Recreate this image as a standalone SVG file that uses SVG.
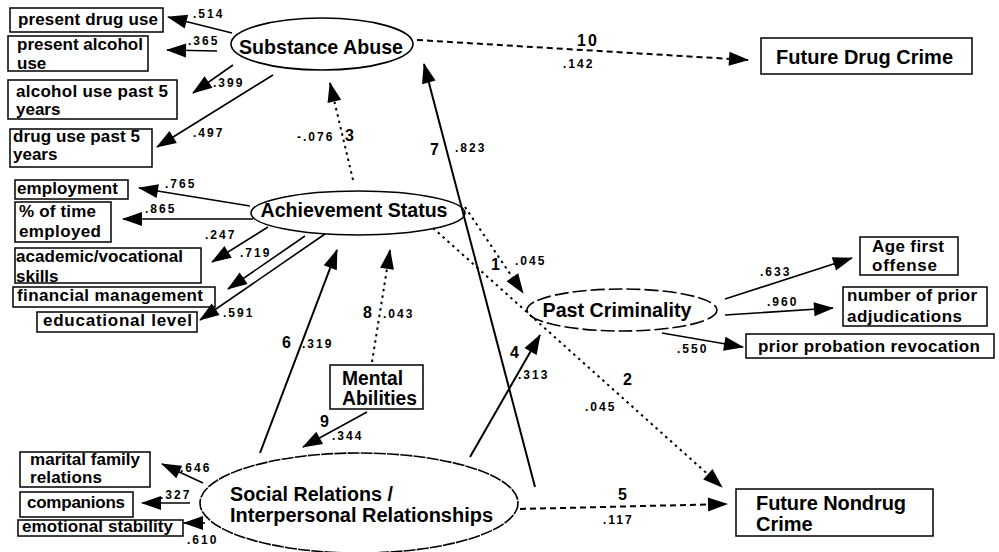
<svg xmlns="http://www.w3.org/2000/svg" width="999" height="552" viewBox="0 0 999 552">
<defs>
<marker id="ah" markerUnits="userSpaceOnUse" markerWidth="20" markerHeight="14" refX="19" refY="7" orient="auto" overflow="visible">
<path d="M0,0 L20,7 L0,14 Z" fill="#000"/>
</marker>
<style>
.t{font-family:"Liberation Sans",Arial,Helvetica,sans-serif;font-weight:bold;fill:#000}
.s{font-size:17px}
.L{font-size:21px}
.T{font-size:20px}
.n{font-size:12px;letter-spacing:2px}
.k{font-size:16px;letter-spacing:2px}
.box{fill:#fff;stroke:#000;stroke-width:1.5}
.el{fill:none;stroke:#000;stroke-width:1.6}
.c{fill:none;stroke:#000;stroke-width:2;marker-end:url(#ah)}
.ci{fill:none;stroke:#000;stroke-width:1.6;marker-end:url(#ah)}
.dot{stroke-dasharray:2.5 4}
.dash{stroke-dasharray:6 4}
</style>
</defs>
<rect width="999" height="552" fill="#fff"/>

<g id="substance-abuse">
<ellipse class="el" cx="322" cy="44" rx="91" ry="26"/>
<text class="t L" x="321" y="54" text-anchor="middle" textLength="164" lengthAdjust="spacingAndGlyphs">Substance Abuse</text>
</g>
<g id="present-drug-use"><rect class="box" x="10" y="8" width="153" height="24"/><text class="t s" x="18" y="25" textLength="140">present drug use</text></g>
<g id="present-alcohol-use"><rect class="box" x="8" y="36" width="140" height="35"/><text class="t s" x="17" y="50" textLength="126">present alcohol</text><text class="t s" x="17" y="69">use</text></g>
<g id="alcohol-use-past"><rect class="box" x="8" y="80" width="169" height="39"/><text class="t s" x="16" y="97" textLength="152">alcohol use past 5</text><text class="t s" x="16" y="115">years</text></g>
<g id="drug-use-past"><rect class="box" x="10" y="129" width="142" height="38"/><text class="t s" x="13" y="142" textLength="127">drug use past 5</text><text class="t s" x="13" y="160">years</text></g>

<g id="achievement-status">
<ellipse class="el" cx="358" cy="213" rx="107" ry="22"/>
<text class="t L" x="354" y="217" text-anchor="middle" textLength="187" lengthAdjust="spacingAndGlyphs">Achievement Status</text>
</g>
<g id="employment"><rect class="box" x="15" y="180" width="113" height="19"/><text class="t s" x="17" y="194" textLength="101">employment</text></g>
<g id="time-employed"><rect class="box" x="15" y="202" width="96" height="40"/><text class="t s" x="19" y="217" textLength="77">% of time</text><text class="t s" x="19" y="237" textLength="82">employed</text></g>
<g id="academic-skills"><rect class="box" x="15" y="248" width="186" height="35"/><text class="t s" x="16" y="262" textLength="167">academic/vocational</text><text class="t s" x="16" y="282">skills</text></g>
<g id="financial-management"><rect class="box" x="13" y="287" width="202" height="20"/><text class="t s" x="17" y="301" textLength="186">financial management</text></g>
<g id="educational-level"><rect class="box" x="37" y="312" width="160" height="20"/><text class="t s" x="43" y="326" textLength="149">educational level</text></g>

<g id="mental-abilities"><rect class="box" x="330" y="365" width="93" height="44"/><text class="t T" x="342" y="385" textLength="61" lengthAdjust="spacingAndGlyphs">Mental</text><text class="t T" x="342" y="405" textLength="75" lengthAdjust="spacingAndGlyphs">Abilities</text></g>

<g id="social-relations">
<ellipse class="el" cx="359" cy="503" rx="159" ry="50" stroke-dasharray="12 1.2"/>
<text class="t T" x="230" y="501" textLength="163" lengthAdjust="spacingAndGlyphs">Social Relations /</text>
<text class="t T" x="230" y="522" textLength="263" lengthAdjust="spacingAndGlyphs">Interpersonal Relationships</text>
</g>
<g id="marital-family"><rect class="box" x="20" y="452" width="130" height="35"/><text class="t s" x="30" y="465" textLength="110">marital family</text><text class="t s" x="30" y="483" textLength="72">relations</text></g>
<g id="companions"><rect class="box" x="20" y="492" width="113" height="25"/><text class="t s" x="27" y="508" textLength="98">companions</text></g>
<g id="emotional-stability"><rect class="box" x="18" y="520" width="165" height="16"/><text class="t s" x="22" y="532" textLength="151">emotional stability</text></g>

<g id="past-criminality">
<ellipse class="el" cx="622" cy="310" rx="95" ry="21" stroke-dasharray="14 4"/>
<text class="t L" x="617" y="317" text-anchor="middle" textLength="149" lengthAdjust="spacingAndGlyphs">Past Criminality</text>
</g>
<g id="age-first-offense"><rect class="box" x="860" y="237" width="98" height="38"/><text class="t s" x="872" y="252" textLength="72">Age first</text><text class="t s" x="872" y="271" textLength="65">offense</text></g>
<g id="prior-adjudications"><rect class="box" x="843" y="287" width="144" height="39"/><text class="t s" x="847" y="301" textLength="130">number of prior</text><text class="t s" x="847" y="322" textLength="115">adjudications</text></g>
<g id="probation-revocation"><rect class="box" x="746" y="334" width="248" height="24"/><text class="t s" x="758" y="352" textLength="222">prior probation revocation</text></g>

<g id="future-drug-crime"><rect class="box" x="761" y="38" width="211" height="36"/><text class="t T" x="776" y="64" textLength="177">Future Drug Crime</text></g>
<g id="future-nondrug-crime"><rect class="box" x="736" y="489" width="197" height="47"/><text class="t T" x="756" y="510" textLength="150">Future Nondrug</text><text class="t T" x="756" y="531">Crime</text></g>

<g id="connectors">
<path class="ci" d="M232,33 L168,17"/>
<path class="ci" d="M217,51 L167,50"/>
<path class="ci" d="M233,65 L193,93"/>
<path class="ci" d="M273,75 L157,147"/>
<path class="c dot" d="M353,180 L330,83"/>
<path class="c dash" d="M417,40 L748,60"/>
<path class="c" d="M535,487 L424,64"/>
<path class="ci" d="M250,206 L139,188"/>
<path class="ci" d="M253,219 L123,219"/>
<path class="ci" d="M268,227 L212,262"/>
<path class="ci" d="M305,236 L228,289"/>
<path class="ci" d="M325,234 L200,320"/>
<path class="c dot" d="M465,207 L523,293"/>
<path class="c dot" d="M433,228 L722,487"/>
<path class="c" d="M260,453 L337,250"/>
<path class="c dot" d="M372,362 L390,250"/>
<path class="ci" d="M367,412 L303,447"/>
<path class="c" d="M470,457 L540,335"/>
<path class="ci" d="M203,483 L162,464"/>
<path class="ci" d="M190,503 L142,503"/>
<path class="ci" d="M205,523 L184,523"/>
<path class="c dash" d="M520,509 L727,504"/>
<path class="ci" d="M725,299 L852,258"/>
<path class="ci" d="M725,315 L833,308"/>
<path class="ci" d="M662,333 L743,347"/>
</g>

<g id="labels">
<text class="t n" x="193" y="18">.514</text>
<text class="t n" x="188" y="45">.365</text>
<text class="t n" x="213" y="87">.399</text>
<text class="t n" x="193" y="137">.497</text>
<text class="t n" x="297" y="141">-.076</text>
<text class="t n" x="165" y="188">.765</text>
<text class="t n" x="145" y="213">.865</text>
<text class="t n" x="205" y="239">.247</text>
<text class="t n" x="240" y="257">.719</text>
<text class="t n" x="223" y="317">.591</text>
<text class="t n" x="302" y="348">.319</text>
<text class="t n" x="383" y="318">.043</text>
<text class="t n" x="332" y="440">.344</text>
<text class="t n" x="180" y="472">.646</text>
<text class="t n" x="160" y="499">.327</text>
<text class="t n" x="187" y="544">.610</text>
<text class="t n" x="455" y="152">.823</text>
<text class="t n" x="563" y="68">.142</text>
<text class="t n" x="515" y="265">.045</text>
<text class="t n" x="518" y="379">.313</text>
<text class="t n" x="585" y="411">.045</text>
<text class="t n" x="603" y="524">.117</text>
<text class="t n" x="760" y="276">.633</text>
<text class="t n" x="767" y="306">.960</text>
<text class="t n" x="677" y="353">.550</text>
<text class="t k" x="345" y="141">3</text>
<text class="t k" x="430" y="155">7</text>
<text class="t k" x="577" y="46">10</text>
<text class="t k" x="491" y="270">1</text>
<text class="t k" x="363" y="318">8</text>
<text class="t k" x="282" y="348">6</text>
<text class="t k" x="320" y="427">9</text>
<text class="t k" x="510" y="358">4</text>
<text class="t k" x="623" y="385">2</text>
<text class="t k" x="618" y="500">5</text>
</g>
</svg>
